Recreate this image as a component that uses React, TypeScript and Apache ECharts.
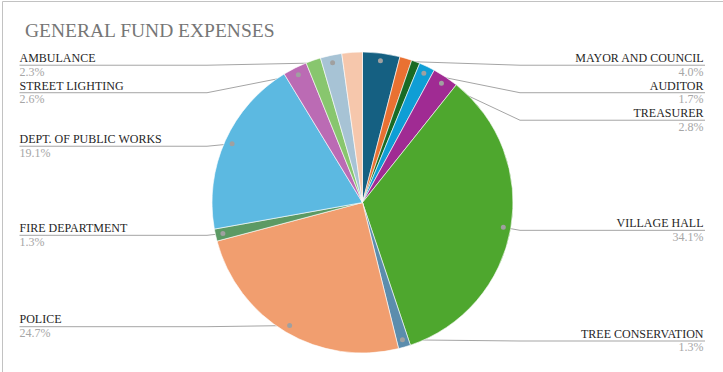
import React, { useEffect, useRef } from 'react';
import * as echarts from 'echarts';

const categories = [
  'MAYOR AND COUNCIL',
  'UNLABELED A',
  'UNLABELED B',
  'AUDITOR',
  'TREASURER',
  'VILLAGE HALL',
  'TREE CONSERVATION',
  'POLICE',
  'FIRE DEPARTMENT',
  'DEPT. OF PUBLIC WORKS',
  'STREET LIGHTING',
  'UNLABELED C',
  'AMBULANCE',
  'UNLABELED D',
];
const values = [4.0, 1.3, 0.9, 1.7, 2.8, 34.1, 1.3, 24.7, 1.3, 19.1, 2.6, 1.6, 2.3, 2.2];
const labeled = [true, false, false, true, true, true, true, true, true, true, true, false, true, false];
const colors = [
  '#156082', '#E97132', '#196B24', '#0F9ED5', '#A02B93', '#4EA72E',
  '#5B8DAD', '#F19E6F', '#5C9A64', '#5CB9E1', '#BB6BB4', '#88C66E', '#A7C3D5', '#F6C7AC',
];

const W = 723;
const H = 372;
const PLOT_TOP = 51;
const CX = 362.5;
const CY = 202.5;
const R = 150.5;
const DOT_R = 143;
const FONT = "'Liberation Serif', serif";

export default function App() {
  const ref = useRef<HTMLDivElement>(null);
  useEffect(() => {
    document.body.style.margin = '0';
    const chart = echarts.init(ref.current as HTMLDivElement, null, { renderer: 'svg' });
    const data = categories.map((name, i) => ({
      name,
      value: values[i],
      itemStyle: { color: colors[i] },
      label: { show: labeled[i] },
      labelLine: { show: labeled[i] },
    }));
    const dotData = categories.map((name, i) => ({
      name,
      value: values[i],
      label: { show: labeled[i] },
    }));
    chart.setOption({
      animation: false,
      title: {
        text: 'GENERAL FUND EXPENSES',
        left: 20,
        top: 15,
        textStyle: { fontFamily: FONT, fontSize: 19.5, fontWeight: 'normal', color: '#767676' },
      },
      graphic: [
        {
          type: 'rect',
          silent: true,
          z: -10,
          shape: { x: 2.5, y: 1.5, width: 780, height: 420 },
          style: { fill: 'none', stroke: '#c2c2c2', lineWidth: 1 },
        },
      ],
      series: [
        {
          type: 'pie',
          left: 0,
          right: 0,
          top: PLOT_TOP,
          bottom: 0,
          center: [CX, CY - PLOT_TOP],
          radius: R,
          startAngle: 90,
          clockwise: true,
          data,
          itemStyle: { borderColor: '#ffffff', borderWidth: 0.6 },
          emphasis: { disabled: true },
          label: {
            position: 'outer',
            alignTo: 'edge',
            edgeDistance: 19.5,
            distanceToLabelLine: 0,
            fontFamily: FONT,
            formatter: (p: any) => `{n|${p.name}}\n{p|${Number(p.value).toFixed(1)}%}`,
            rich: {
              n: { fontFamily: FONT, fontSize: 12, color: '#262626', lineHeight: 14 },
              p: { fontFamily: FONT, fontSize: 12, color: '#a6a6a6', lineHeight: 13 },
            },
          },
          labelLine: {
            length: -7,
            length2: 0,
            minTurnAngle: 0,
            maxSurfaceAngle: 180,
            lineStyle: { color: '#a5a5a5', width: 1 },
          },
          labelLayout: (params: any) => {
            const pts = params.labelLinePoints;
            if (!pts || !pts[0]) return {};
            const p0 = pts[0];
            const k = DOT_R / R;
            const dx = CX + (p0[0] - CX) * k;
            const dy = CY + (p0[1] - CY) * k;
            const rect = params.labelRect;
            const ly = rect.y + (rect.height * 14) / 27;
            const right = dx > CX;
            const elbowX = right ? Math.max(dx, CX + R + 7) : Math.min(dx, CX - R - 5);
            const endX = right ? rect.x + rect.width + 1.5 : rect.x;
            return {
              labelLinePoints: [
                [dx, dy],
                [elbowX, ly],
                [endX, ly],
              ],
            };
          },
        },
        {
          type: 'pie',
          left: 0,
          right: 0,
          top: PLOT_TOP,
          bottom: 0,
          center: [CX, CY - PLOT_TOP],
          radius: [2 * (DOT_R - 3) - R, R],
          startAngle: 90,
          clockwise: true,
          silent: true,
          data: dotData,
          itemStyle: { color: 'rgba(0,0,0,0)', borderWidth: 0 },
          emphasis: { disabled: true },
          label: {
            position: 'inside',
            formatter: '{d|}',
            rich: {
              d: { width: 5, height: 5, borderRadius: 2.5, backgroundColor: '#a0a0a0' },
            },
          },
          labelLine: { show: false },
        },
      ],
    });
    return () => chart.dispose();
  }, []);
  return <div ref={ref} style={{ width: W, height: H }} />;
}
